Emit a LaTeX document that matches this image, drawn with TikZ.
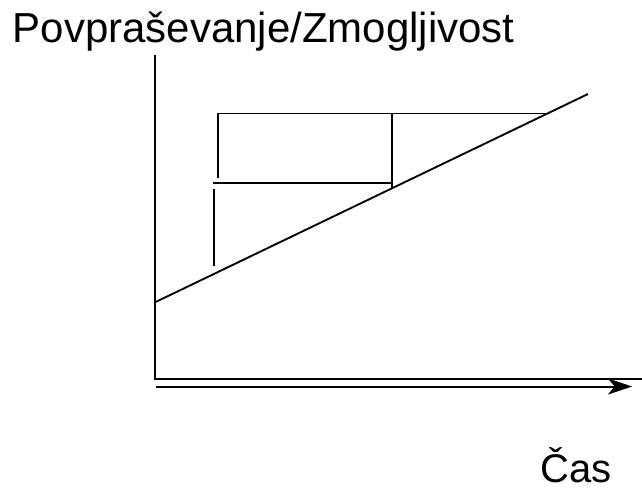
\documentclass[tikz,border=0pt]{standalone}
\usepackage{fontspec}
\setmainfont{Liberation Sans}
\usetikzlibrary{arrows.meta}
\tikzset{
  axis/.style  = {line width=1.5pt},
  step line/.style = {line width=1.4pt},
  arrow/.style = {-{Stealth[length=18pt, width=12pt, inset=5pt]}, line width=1.5pt},
  label/.style = {font=\fontsize{30}{36}\selectfont, inner sep=0pt, anchor=base west},
}

\begin{document}
\begin{tikzpicture}[x=0.75pt, y=-0.75pt]
  \useasboundingbox (0,0) rectangle (642,492);

  % Axes
  \coordinate (Ytop)   at (155,55);
  \coordinate (Origin) at (155,379);
  \coordinate (Xend)   at (642,379);
  \draw[axis] (Ytop) -- (Origin) -- (Xend);

  % Time arrow below the axis
  \coordinate (Tstart) at (156,386.5);
  \coordinate (Tend)   at (632,386.5);
  \draw[arrow] (Tstart) -- (Tend);

  % Demand line
  \coordinate (Dstart) at (155,302.3);
  \coordinate (Dend)   at (588,94);
  \draw[step line] (Dstart) -- (Dend);

  % Capacity steps
  \coordinate (A1) at (217.7,178);
  \coordinate (A2) at (217.7,113.5);
  \coordinate (A3) at (548,113.5);
  \draw[step line] (A1) -- (A2) -- (A3);

  \coordinate (B1) at (213,182.7);
  \coordinate (B2) at (391.7,182.7);
  \draw[step line] (B1) -- (B2);

  \coordinate (C1) at (391.7,112.8);
  \coordinate (C2) at (391.7,188.5);
  \draw[step line] (C1) -- (C2);

  \coordinate (E1) at (214,189);
  \coordinate (E2) at (214,266);
  \draw[step line] (E1) -- (E2);

  % Labels
  \node[label, font=\fontsize{31.5}{36}\selectfont] (ylabel) at (12.5,42.7) {Povpraševanje/Zmogljivost};
  \node[label] (xlabel) at (540.5,482) {Čas};
\end{tikzpicture}
\end{document}
